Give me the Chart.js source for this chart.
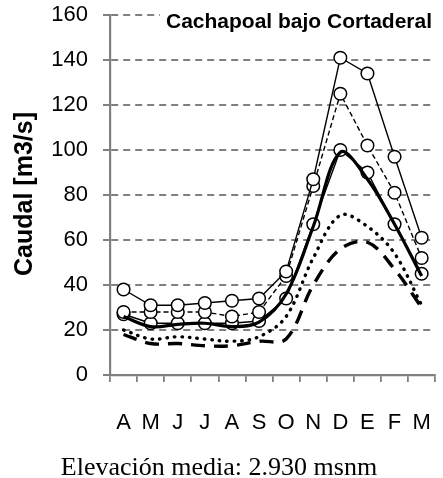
<!DOCTYPE html>
<html>
<head>
<meta charset="utf-8">
<script src="https://cdn.jsdelivr.net/npm/chart.js@4.4.1/dist/chart.umd.min.js"></script>
<style>
  html, body { margin: 0; padding: 0; background: #ffffff; }
  #wrap { width: 443px; height: 478px; position: relative; }
</style>
</head>
<body>
<div id="wrap"><canvas id="c" width="443" height="478"></canvas></div>
<script>
// ---- data ----
const months = ['A','M','J','J','A','S','O','N','D','E','F','M'];
const yTicks = [0, 20, 40, 60, 80, 100, 120, 140, 160];
const chartTitle = 'Cachapoal bajo Cortaderal';
const yTitle = 'Caudal [m3/s]';
const footText = 'Elevación media: 2.930 msnm';

const serieAltaMarc   = [38, 31, 31, 32, 33, 34, 46, 87, 141, 134, 97, 61];
const serieMediaMarc  = [28, 28, 28, 28, 26, 28, 44, 84, 125, 102, 81, 52];
const serieBajaMarc   = [27, 23, 23, 23, 23, 24, 34, 67, 100, 90, 67, 45];
const serieGruesa     = [26, 21.5, 22.5, 23, 21.5, 23.5, 36, 66, 99, 87, 67, 44];
const seriePunteada   = [20, 16, 17, 16, 15, 17, 26, 52, 71, 66, 54, 31];
const serieSegmentada = [18, 14, 14, 13, 13, 15, 16, 40, 56, 59, 47, 30];

const AREA = { left: 110, right: 441, top: 15, bottom: 375 };
const W = 443, H = 478;

const textPlugin = {
  id: 'texts',
  afterDraw(chart) {
    const ctx = chart.ctx;
    ctx.save();
    // chart title with white background over gridline
    ctx.font = 'bold 21px "Liberation Sans", Arial, sans-serif';
    const tw = ctx.measureText(chartTitle).width;
    const tx = 299, ty = 22;
    ctx.fillStyle = '#ffffff';
    ctx.fillRect(tx - tw / 2 - 6, ty - 12, tw + 12, 24);
    ctx.fillStyle = '#000000';
    ctx.textAlign = 'center';
    ctx.textBaseline = 'middle';
    ctx.fillText(chartTitle, tx, ty);
    // y axis title
    ctx.save();
    ctx.translate(25, 194);
    ctx.rotate(-Math.PI / 2);
    ctx.font = 'bold 25px "Liberation Sans", Arial, sans-serif';
    ctx.fillText(yTitle, 0, 0);
    ctx.restore();
    // footer
    ctx.font = '26px "Liberation Serif", "Times New Roman", serif';
    ctx.textBaseline = 'alphabetic';
    ctx.fillText(footText, 219, 475);
    ctx.restore();
  }
};

const markerDs = (data, dash, order) => ({
  data,
  borderColor: '#000',
  borderWidth: 1.4,
  borderDash: dash,
  tension: 0,
  pointRadius: 6.3,
  pointHoverRadius: 6.3,
  pointBorderWidth: 1.5,
  pointBackgroundColor: '#fff',
  pointBorderColor: '#000',
  order
});

new Chart(document.getElementById('c'), {
  type: 'line',
  data: {
    labels: months,
    datasets: [
      markerDs(serieAltaMarc, [], 2),
      markerDs(serieMediaMarc, [5, 3], 3),
      markerDs(serieBajaMarc, [], 4),
      {
        data: serieGruesa, borderColor: '#000', borderWidth: 3.2,
        tension: 0.35, pointRadius: 0, order: 1
      },
      {
        data: seriePunteada, borderColor: '#000', borderWidth: 3.4,
        borderDash: [0.5, 7], borderCapStyle: 'round',
        tension: 0.35, pointRadius: 0, order: 5
      },
      {
        data: serieSegmentada, borderColor: '#000', borderWidth: 3.4,
        borderDash: [14, 9], tension: 0.35, pointRadius: 0, order: 6
      }
    ]
  },
  options: {
    responsive: false,
    devicePixelRatio: 1,
    animation: false,
    events: [],
    layout: { padding: { top: AREA.top, right: W - AREA.right, left: 0, bottom: 0 } },
    plugins: { legend: { display: false }, title: { display: false }, tooltip: { enabled: false } },
    scales: {
      x: {
        type: 'category',
        offset: true,
        afterFit(s) {
          s.height = H - AREA.bottom;
          s.paddingLeft = 0; s.paddingRight = 0;
        },
        grid: {
          offset: true, drawOnChartArea: false, drawTicks: true,
          tickLength: 7, color: '#808080', lineWidth: 1.8
        },
        border: { display: true, color: '#808080', width: 2.2 },
        ticks: {
          color: '#000', padding: 28,
          font: { family: '"Liberation Sans", Arial, sans-serif', size: 22 },
          maxRotation: 0, autoSkip: false
        }
      },
      y: {
        min: 0, max: 160,
        afterFit(s) {
          s.width = AREA.left;
          s.paddingTop = 0; s.paddingBottom = 0;
        },
        afterBuildTicks(s) { s.ticks = yTicks.map(v => ({ value: v })); },
        grid: {
          color: '#808080', lineWidth: 2, tickLength: 7,
          tickBorderDash: [], tickColor: '#808080'
        },
        border: { display: true, color: '#808080', width: 2.2, dash: [7, 5] },
        ticks: {
          color: '#000', padding: 15,
          font: { family: '"Liberation Sans", Arial, sans-serif', size: 22 }
        }
      }
    }
  },
  plugins: [textPlugin]
});
</script>
</body>
</html>
